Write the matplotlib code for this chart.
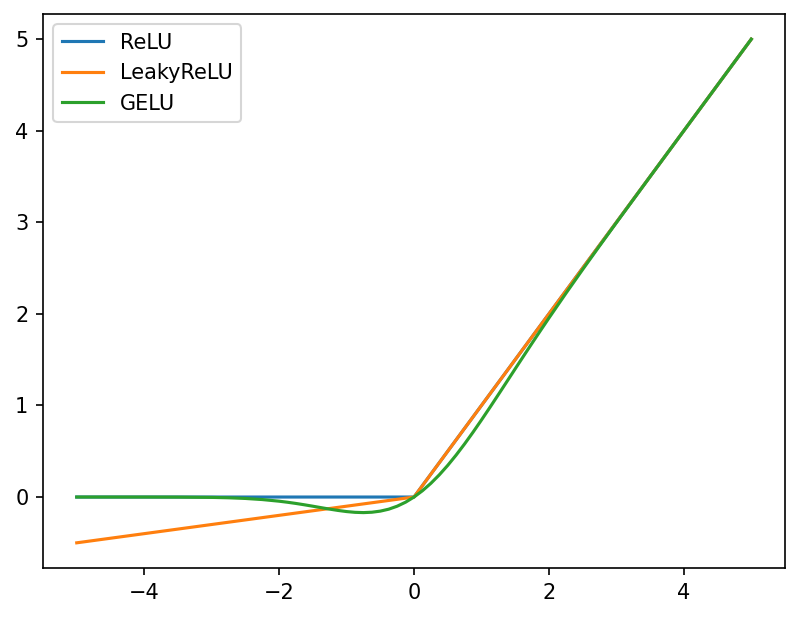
import matplotlib
matplotlib.use("Agg")
import matplotlib.pyplot as plt

relu_x = [-5, 0, 5]
relu_y = [0, 0, 5]

leaky_x = [-5, 0, 5]
leaky_y = [-0.5, 0, 5]

gelu_x = [-5, -4, -3.5, -3, -2.75, -2.5, -2.25, -2, -1.875, -1.75, -1.625, -1.5, -1.375,
          -1.25, -1.125, -1, -0.875, -0.75, -0.625, -0.5, -0.375, -0.25, -0.125, 0,
          0.125, 0.25, 0.375, 0.5, 0.625, 0.75, 0.875, 1, 1.125, 1.25, 1.375, 1.5,
          1.625, 1.75, 1.875, 2, 2.25, 2.5, 2.75, 3, 3.5, 4, 5]
gelu_y = [0, -0.0001, -0.0008, -0.004, -0.0082, -0.0155, -0.0275, -0.0455, -0.057, -0.0701,
          -0.0847, -0.1002, -0.1163, -0.132, -0.1466, -0.1587, -0.167, -0.170, -0.166,
          -0.154, -0.1327, -0.1003, -0.0563, 0, 0.0687, 0.1497, 0.2423, 0.3457, 0.4588,
          0.580, 0.708, 0.8413, 0.9784, 1.118, 1.2587, 1.3998, 1.5403, 1.680, 1.818,
          1.9545, 2.2225, 2.4845, 2.7418, 2.996, 3.4992, 3.9999, 5]

fig = plt.figure(figsize=(801/150, 619/150), dpi=150)
ax = fig.add_axes([43/801, 51/619, (785-43)/801, (568-14)/619])
ax.plot(relu_x, relu_y, label="ReLU")
ax.plot(leaky_x, leaky_y, label="LeakyReLU")
ax.plot(gelu_x, gelu_y, label="GELU")
ax.legend(loc="upper left")
fig.savefig("out.png", dpi=150)
